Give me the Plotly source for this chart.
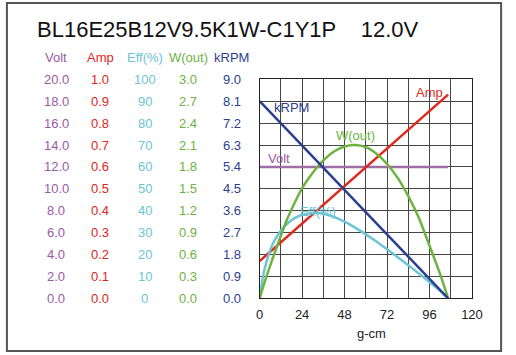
import plotly.graph_objects as go

# ---------------- data ----------------
title_text = "BL16E25B12V9.5K1W-C1Y1P\u00a0\u00a0\u00a0\u00a012.0V"

torque = [0, 2, 4, 6, 8, 12, 16, 20, 24, 30, 36, 42, 48, 54, 60, 66, 72, 78, 84, 90, 96, 102, 106.5]
eff = [0, 10.5, 17, 22, 25.8, 31, 34.4, 36.7, 38.1, 39.0, 38.6, 37.2, 35.0, 32.3, 29.2, 25.9, 22.4, 18.8, 15.1, 11.3, 7.4, 3.4, 0]
wout = [0, 0.16, 0.31, 0.45, 0.59, 0.86, 1.11, 1.32, 1.51, 1.72, 1.89, 2.01, 2.08, 2.10, 2.07, 1.98, 1.84, 1.65, 1.40, 1.10, 0.72, 0.33, 0]

torque_lin = [0, 106.5]
volt = [12.0, 12.0]
amp = [0.17, 0.93]
krpm = [8.1, 0.0]

volt_ticks = [0, 2, 4, 6, 8, 10, 12, 14, 16, 18, 20]
volt_labels = ["0.0", "2.0", "4.0", "6.0", "8.0", "10.0", "12.0", "14.0", "16.0", "18.0", "20.0"]
amp_ticks = [0, 0.1, 0.2, 0.3, 0.4, 0.5, 0.6, 0.7, 0.8, 0.9, 1.0]
amp_labels = ["0.0", "0.1", "0.2", "0.3", "0.4", "0.5", "0.6", "0.7", "0.8", "0.9", "1.0"]
eff_ticks = [0, 10, 20, 30, 40, 50, 60, 70, 80, 90, 100]
eff_labels = ["0", "10", "20", "30", "40", "50", "60", "70", "80", "90", "100"]
w_ticks = [0, 0.3, 0.6, 0.9, 1.2, 1.5, 1.8, 2.1, 2.4, 2.7, 3.0]
w_labels = ["0.0", "0.3", "0.6", "0.9", "1.2", "1.5", "1.8", "2.1", "2.4", "2.7", "3.0"]
krpm_ticks = [0, 0.9, 1.8, 2.7, 3.6, 4.5, 5.4, 6.3, 7.2, 8.1, 9.0]
krpm_labels = ["0.0", "0.9", "1.8", "2.7", "3.6", "4.5", "5.4", "6.3", "7.2", "8.1", "9.0"]

x_ticks = [0, 24, 48, 72, 96, 120]
x_title = "g-cm"

# ---------------- style ----------------
W, H = 516, 355
FONT = "Liberation Sans, Arial, sans-serif"
C_VOLT = "#9a5aa6"
C_VOLT_LINE = "#9e6fa6"
C_AMP = "#e0281c"
C_EFF = "#6cc4d6"
C_W = "#6db33f"
C_KRPM = "#2b3f90"
GRID = "#454545"

def px_x(p):
    return p / W

def px_y(p):
    return (H - p) / H

fig = go.Figure()

fig.add_trace(go.Scatter(x=torque_lin, y=volt, mode="lines", line=dict(color=C_VOLT_LINE, width=2.5),
                         yaxis="y", hoverinfo="skip"))
fig.add_trace(go.Scatter(x=torque_lin, y=amp, mode="lines", line=dict(color=C_AMP, width=2.5),
                         yaxis="y2", hoverinfo="skip"))
fig.add_trace(go.Scatter(x=torque, y=eff, mode="lines", line=dict(color=C_EFF, width=2.5, shape="spline", smoothing=0.6),
                         yaxis="y3", hoverinfo="skip"))
fig.add_trace(go.Scatter(x=torque, y=wout, mode="lines", line=dict(color=C_W, width=2.5, shape="spline", smoothing=0.6),
                         yaxis="y4", hoverinfo="skip"))
fig.add_trace(go.Scatter(x=torque_lin, y=krpm, mode="lines", line=dict(color=C_KRPM, width=2.5),
                         yaxis="y5", hoverinfo="skip"))

xd = [px_x(263.3), px_x(482.0)]
yd = [px_y(298.3), px_y(79.3)]

hidden = dict(overlaying="y", visible=False, showgrid=False, zeroline=False)

fig.update_layout(
    width=W, height=H,
    margin=dict(l=0, r=0, t=0, b=0),
    paper_bgcolor="white", plot_bgcolor="white",
    showlegend=False,
    font=dict(family=FONT, size=13, color="#222"),
    xaxis=dict(domain=xd, range=[0, 120], tickvals=x_ticks, ticktext=[str(v) for v in x_ticks],
               showgrid=True, gridcolor=GRID, gridwidth=1, zeroline=False,
               minor=dict(dtick=12, showgrid=True, gridcolor=GRID, gridwidth=1),
               showline=True, linecolor="#222", linewidth=1, mirror=True,
               ticks="outside", ticklen=4, tickcolor="rgba(0,0,0,0)",
               tickfont=dict(family=FONT, size=13, color="#222")),
    yaxis=dict(domain=yd, range=[0, 20], dtick=2, showgrid=True, gridcolor=GRID, gridwidth=1,
               zeroline=False, showticklabels=False, showline=True, linecolor="#222", linewidth=1,
               mirror=True),
    yaxis2=dict(range=[0, 1.0], **hidden),
    yaxis3=dict(range=[0, 100], **hidden),
    yaxis4=dict(range=[0, 3.0], **hidden),
    yaxis5=dict(range=[0, 9.0], **hidden),
)

ann = []
# Title
ann.append(dict(text=title_text, x=px_x(32), y=px_y(29), xref="paper", yref="paper",
                xanchor="left", yanchor="middle", showarrow=False,
                font=dict(family=FONT, size=22, color="#111")))

columns = [
    ("Volt", C_VOLT, 54, "y", volt_ticks, volt_labels),
    ("Amp", C_AMP, 99, "y2", amp_ticks, amp_labels),
    ("Eff(%)", C_EFF, 145, "y3", eff_ticks, eff_labels),
    ("W(out)", C_W, 190, "y4", w_ticks, w_labels),
    ("kRPM", C_KRPM, 234.5, "y5", krpm_ticks, krpm_labels),
]
for name, col, cx, yr, tv, tl in columns:
    ann.append(dict(text=name, x=px_x(cx), y=px_y(57.5), xref="paper", yref="paper",
                    xanchor="center", yanchor="middle", showarrow=False,
                    font=dict(family=FONT, size=13, color=col)))
    for v, t in zip(tv, tl):
        ann.append(dict(text=t, x=px_x(cx), y=v, xref="paper", yref=yr,
                        xanchor="center", yanchor="middle", showarrow=False,
                        font=dict(family=FONT, size=13, color=col)))

# axis title
ann.append(dict(text=x_title, x=px_x(379), y=px_y(333), xref="paper", yref="paper",
                xanchor="center", yanchor="middle", showarrow=False,
                font=dict(family=FONT, size=13, color="#222")))

# in-plot curve labels
ann.append(dict(text="kRPM", x=18.0, y=17.44, xref="x", yref="y", showarrow=False,
                font=dict(family=FONT, size=13, color=C_KRPM)))
ann.append(dict(text="W(out)", x=54.2, y=14.91, xref="x", yref="y", showarrow=False,
                font=dict(family=FONT, size=13, color=C_W)))
ann.append(dict(text="Volt", x=11.1, y=12.78, xref="x", yref="y", showarrow=False,
                font=dict(family=FONT, size=13, color=C_VOLT)))
ann.append(dict(text="Amp", x=96.0, y=18.78, xref="x", yref="y", showarrow=False,
                font=dict(family=FONT, size=13, color=C_AMP)))
ann.append(dict(text="Eff(%)", x=32.8, y=7.91, xref="x", yref="y", showarrow=False,
                font=dict(family=FONT, size=13, color=C_EFF)))

fig.update_layout(annotations=ann)

# outer frame
fig.add_shape(type="rect", xref="paper", yref="paper",
              x0=px_x(3), x1=px_x(512), y0=px_y(351), y1=px_y(3),
              line=dict(color="#555", width=2), fillcolor="rgba(0,0,0,0)", layer="above")

fig.write_html("out.html",
               config={"displayModeBar": False, "staticPlot": True},
               post_script="document.body.style.margin='0';document.body.style.padding='0';document.body.style.overflow='hidden';")
